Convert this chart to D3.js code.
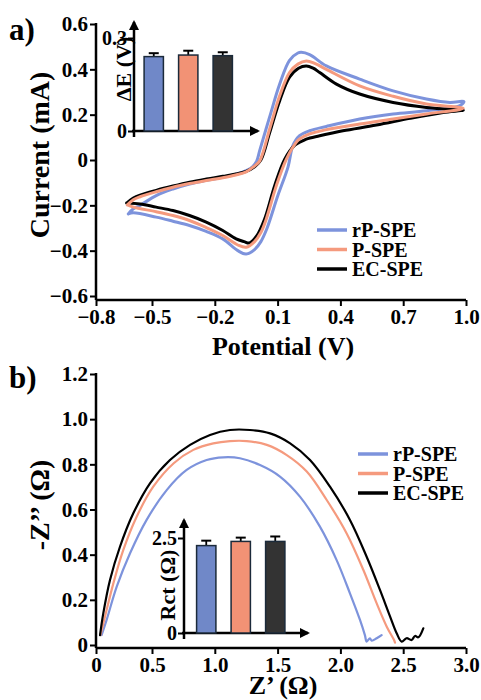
<!DOCTYPE html>
<html>
<head>
<meta charset="utf-8">
<script src="https://cdn.jsdelivr.net/npm/d3@7"></script>
<style>
  body { margin: 0; background: #fff; }
  text { font-family: "Liberation Serif", "Times New Roman", serif; font-weight: bold; fill: #000; }
</style>
</head>
<body>
<script>
// series names and colours
var names = ["rP-SPE", "P-SPE", "EC-SPE"];
var colors = ["#7d93dc", "#f59a7e", "#000000"];
var barColors = ["#7088c8", "#f29275", "#333333"];

// a) cyclic voltammograms, potential (V) / current (mA), one loop per electrode
var rpV = [-0.627,-0.6,-0.564,-0.48,-0.4,-0.321,-0.24,-0.162,-0.1,-0.05,-0.02,0.0,0.014,0.062,0.11,0.157,0.197,0.213,0.253,0.333,0.492,0.652,0.811,0.923,0.99,0.971,0.811,0.652,0.492,0.333,0.253,0.205,0.173,0.15,0.1,0.05,0.02,-0.01,-0.05,-0.09,-0.162,-0.241,-0.321,-0.4,-0.48,-0.6,-0.627];
var rpI = [-0.238,-0.215,-0.2,-0.157,-0.128,-0.106,-0.09,-0.076,-0.063,-0.047,-0.03,-0.005,0.04,0.19,0.335,0.44,0.472,0.475,0.465,0.415,0.357,0.305,0.269,0.254,0.258,0.24,0.217,0.203,0.181,0.148,0.129,0.107,0.063,-0.03,-0.16,-0.3,-0.36,-0.395,-0.415,-0.4,-0.348,-0.315,-0.289,-0.27,-0.252,-0.233,-0.238];
var pV = [-0.632,-0.6,-0.564,-0.48,-0.4,-0.321,-0.24,-0.162,-0.1,-0.05,-0.015,0.014,0.062,0.11,0.157,0.197,0.237,0.28,0.333,0.492,0.652,0.811,0.987,0.811,0.652,0.492,0.333,0.253,0.205,0.189,0.142,0.094,0.046,0.02,-0.01,-0.05,-0.09,-0.162,-0.241,-0.321,-0.4,-0.48,-0.6,-0.632];
var pI = [-0.198,-0.175,-0.162,-0.14,-0.12,-0.104,-0.09,-0.078,-0.066,-0.052,-0.03,-0.005,0.137,0.283,0.386,0.423,0.437,0.425,0.4,0.327,0.281,0.247,0.228,0.203,0.181,0.159,0.134,0.115,0.0925,0.078,0.004,-0.113,-0.26,-0.32,-0.36,-0.385,-0.375,-0.333,-0.298,-0.267,-0.245,-0.228,-0.208,-0.198];
var ecV = [-0.636,-0.6,-0.564,-0.48,-0.4,-0.321,-0.24,-0.162,-0.1,-0.05,-0.01,0.02,0.062,0.11,0.157,0.2,0.237,0.27,0.301,0.381,0.492,0.652,0.811,0.907,0.987,0.891,0.732,0.572,0.412,0.301,0.237,0.2,0.181,0.134,0.086,0.038,0.0,-0.034,-0.06,-0.098,-0.162,-0.241,-0.321,-0.4,-0.48,-0.564,-0.636];
var ecI = [-0.19,-0.168,-0.155,-0.134,-0.115,-0.098,-0.084,-0.072,-0.062,-0.05,-0.03,0.0,0.12,0.262,0.365,0.405,0.415,0.405,0.386,0.335,0.291,0.254,0.232,0.225,0.22,0.21,0.184,0.154,0.129,0.107,0.0925,0.075,0.065,0.004,-0.113,-0.26,-0.335,-0.366,-0.36,-0.348,-0.311,-0.274,-0.245,-0.223,-0.208,-0.194,-0.19];

var cvXTicks = [-0.8, -0.5, -0.2, 0.1, 0.4, 0.7, 1.0];
var cvYTicks = [-0.6, -0.4, -0.2, 0, 0.2, 0.4, 0.6];

// peak separation inset
var dE = [0.240, 0.245, 0.243];
var dEerr = [0.011, 0.014, 0.011];

// b) Nyquist plots, Z' / -Z''
var rpZr = [0.05,0.095,0.185,0.304,0.452,0.617,0.776,0.935,1.068,1.2,1.36,1.519,1.678,1.837,1.97,2.076,2.156,2.195,2.209,2.235,2.249,2.289,2.328];
var rpZi = [0.044,0.111,0.258,0.406,0.554,0.686,0.775,0.819,0.831,0.827,0.797,0.746,0.657,0.524,0.376,0.229,0.111,0.044,0.015,0.03,0.019,0.03,0.044];
var pZr = [0.04,0.08,0.155,0.244,0.363,0.51,0.673,0.829,0.988,1.121,1.254,1.414,1.573,1.732,1.891,2.05,2.183,2.289,2.369,2.427,2.435];
var pZi = [0.044,0.125,0.273,0.421,0.568,0.701,0.805,0.864,0.893,0.903,0.903,0.886,0.841,0.768,0.642,0.494,0.332,0.184,0.081,0.022,0.01];
var ecZr = [0.036,0.065,0.125,0.214,0.333,0.482,0.643,0.803,0.962,1.121,1.28,1.44,1.6,1.758,1.917,2.076,2.209,2.315,2.395,2.448,2.488,2.527,2.567,2.594,2.62,2.66];
var ecZi = [0.044,0.14,0.288,0.435,0.583,0.716,0.819,0.886,0.93,0.952,0.952,0.937,0.893,0.819,0.701,0.554,0.391,0.244,0.127,0.052,0.015,0.03,0.022,0.04,0.034,0.074];

var nqXTicks = [0, 0.5, 1.0, 1.5, 2.0, 2.5, 3.0];
var nqYTicks = [0, 0.2, 0.4, 0.6, 0.8, 1.0, 1.2];

// charge transfer resistance inset
var rct = [2.30, 2.41, 2.41];
var rctErr = [0.13, 0.10, 0.13];

var w = 481, h = 700;
var svg = d3.select("body").append("svg").attr("width", w).attr("height", h);

svg.append("defs").append("marker")
  .attr("id", "arrow")
  .attr("viewBox", "0 0 10 10")
  .attr("refX", 8).attr("refY", 5)
  .attr("markerWidth", 4).attr("markerHeight", 4)
  .attr("orient", "auto")
  .append("path").attr("d", "M0,0 L10,5 L0,10 z").attr("fill", "#000");

function zip(a, b) {
  return a.map(function(v, i) { return [v, b[i]]; });
}

function styleAxis(g) {
  g.selectAll("path.domain").remove();
  g.selectAll("line").attr("stroke", "#000").attr("stroke-width", 2);
  g.selectAll("text").style("font-size", "21px");
}

// panel drawer used for both main plots
function panel(opt) {
  var x = opt.x, y = opt.y;
  // axes
  svg.append("line").attr("x1", opt.left).attr("x2", opt.right)
    .attr("y1", opt.base).attr("y2", opt.base).attr("stroke", "#000").attr("stroke-width", 2.5);
  svg.append("line").attr("x1", opt.left).attr("x2", opt.left)
    .attr("y1", y.range()[1] - 1).attr("y2", opt.base).attr("stroke", "#000").attr("stroke-width", 2.5);

  svg.append("g").attr("transform", "translate(0," + opt.base + ")")
    .call(d3.axisBottom(x).tickValues(opt.xTicks).tickSize(6).tickPadding(3)
      .tickFormat(opt.xFmt))
    .call(styleAxis);
  svg.append("g").attr("transform", "translate(" + opt.left + ",0)")
    .call(d3.axisLeft(y).tickValues(opt.yTicks).tickSize(6).tickPadding(2)
      .tickFormat(opt.yFmt))
    .call(styleAxis);

  var line = d3.line()
    .x(function(d) { return x(d[0]); })
    .y(function(d) { return y(d[1]); })
    .curve(d3.curveCatmullRom.alpha(0.5));

  opt.order.forEach(function(i) {
    svg.append("path").datum(opt.series[i])
      .attr("d", line).attr("fill", "none")
      .attr("stroke", colors[i]).attr("stroke-width", opt.lw)
      .attr("stroke-linejoin", "round").attr("stroke-linecap", "round");
  });

  // legend
  names.forEach(function(n, i) {
    var ly = opt.legY + i * 19.5;
    svg.append("line").attr("x1", opt.legX).attr("x2", opt.legX + 30)
      .attr("y1", ly).attr("y2", ly).attr("stroke", colors[i]).attr("stroke-width", 3.5);
    svg.append("text").attr("x", opt.legX + 35).attr("y", ly + 7)
      .style("font-size", "20px").text(n);
  });

  // titles
  svg.append("text").attr("x", 9).attr("y", opt.tagY).style("font-size", "31px").text(opt.tag);
  svg.append("text").attr("x", (opt.left + opt.right) / 2 + 2).attr("y", opt.xTitleY)
    .attr("text-anchor", "middle").style("font-size", "26px").text(opt.xTitle);
  svg.append("text")
    .attr("transform", "translate(49," + opt.yTitleY + ") rotate(-90)")
    .attr("text-anchor", "middle").style("font-size", "28px").text(opt.yTitle);
}

function inset(opt) {
  // bars 19px wide on a 34.5px pitch
  var x = d3.scaleBand().domain(names)
    .range([opt.left + opt.barStart, opt.left + opt.barStart + 103.5])
    .paddingInner(0.44).paddingOuter(0.22);
  var y = opt.y;
  svg.append("line").attr("x1", opt.left).attr("x2", opt.left)
    .attr("y1", y(0) + 6).attr("y2", opt.top)
    .attr("stroke", "#000").attr("stroke-width", 2.5).attr("marker-end", "url(#arrow)");
  svg.append("line").attr("x1", opt.left - 2).attr("x2", opt.right)
    .attr("y1", y(0)).attr("y2", y(0))
    .attr("stroke", "#000").attr("stroke-width", 2.5).attr("marker-end", "url(#arrow)");

  var g = svg.append("g").attr("transform", "translate(" + opt.left + ",0)")
    .call(d3.axisLeft(y).tickValues(opt.ticks).tickSize(6).tickPadding(1).tickFormat(opt.fmt));
  g.selectAll("path.domain").remove();
  g.selectAll("line").attr("stroke", "#000").attr("stroke-width", 2);
  g.selectAll("text").style("font-size", "20px");

  names.forEach(function(n, i) {
    var cx = x(n) + x.bandwidth() / 2;
    svg.append("line").attr("x1", cx).attr("x2", cx)
      .attr("y1", y(opt.vals[i])).attr("y2", y(opt.vals[i] + opt.errs[i]))
      .attr("stroke", "#000").attr("stroke-width", 1.8);
    svg.append("line").attr("x1", cx - 5).attr("x2", cx + 5)
      .attr("y1", y(opt.vals[i] + opt.errs[i])).attr("y2", y(opt.vals[i] + opt.errs[i]))
      .attr("stroke", "#000").attr("stroke-width", 2);
    svg.append("rect").attr("x", x(n)).attr("width", x.bandwidth())
      .attr("y", y(opt.vals[i])).attr("height", y(0) - y(opt.vals[i]))
      .attr("fill", barColors[i]).attr("stroke", "#1b2a3a").attr("stroke-width", 1.5);
  });

  svg.append("text")
    .attr("transform", "translate(" + opt.titleX + "," + opt.titleY + ") rotate(-90)")
    .attr("text-anchor", "middle").style("font-size", "22px").text(opt.title);
}

// ---------- panel a ----------
var xa = d3.scaleLinear().domain([-0.8, -0.5, 1.0]).range([96, 152, 466]);
var ya = d3.scaleLinear().domain([-0.6, 0.6]).range([296, 24]);
panel({
  x: xa, y: ya, left: 96, right: 466, base: 300,
  xTicks: cvXTicks, yTicks: cvYTicks,
  xFmt: d3.format(".1f"),
  yFmt: function(d) { return d === 0 ? "0" : d3.format(".1f")(d); },
  series: [zip(rpV, rpI), zip(pV, pI), zip(ecV, ecI)],
  order: [0, 2, 1], lw: 3,
  legX: 317, legY: 230,
  tag: "a)", tagY: 40,
  xTitle: "Potential (V)", xTitleY: 355,
  yTitle: "Current (mA)", yTitleY: 155
});
inset({
  left: 134, right: 258, top: 22, barStart: 2.5,
  y: d3.scaleLinear().domain([0, 0.3]).range([131, 38]),
  ticks: [0, 0.3], fmt: function(d) { return d === 0 ? "0" : d3.format(".1f")(d); },
  vals: dE, errs: dEerr,
  title: "\u0394E (V)", titleX: 131, titleY: 69
});

// ---------- panel b ----------
var xb = d3.scaleLinear().domain([0, 0.5, 3.0]).range([96, 152, 466]);
var yb = d3.scaleLinear().domain([0, 1.2]).range([645, 374]);
panel({
  x: xb, y: yb, left: 96, right: 466, base: 648,
  xTicks: nqXTicks, yTicks: nqYTicks,
  xFmt: function(d) { return d === 0 ? "0" : d3.format(".1f")(d); },
  yFmt: function(d) { return d === 0 ? "0" : d3.format(".1f")(d); },
  series: [zip(rpZr, rpZi), zip(pZr, pZi), zip(ecZr, ecZi)],
  order: [0, 1, 2], lw: 2.2,
  legX: 358, legY: 454,
  tag: "b)", tagY: 388,
  xTitle: "Z\u2019 (\u03A9)", xTitleY: 694,
  yTitle: "-Z\u2019\u2019 (\u03A9)", yTitleY: 505
});
inset({
  left: 184, right: 308, top: 520, barStart: 5,
  y: d3.scaleLinear().domain([0, 2.5]).range([633, 538]),
  ticks: [0, 2.5], fmt: function(d) { return d === 0 ? "0" : d3.format(".1f")(d); },
  vals: rct, errs: rctErr,
  title: "Rct (\u03A9)", titleX: 175, titleY: 585
});
</script>
</body>
</html>
